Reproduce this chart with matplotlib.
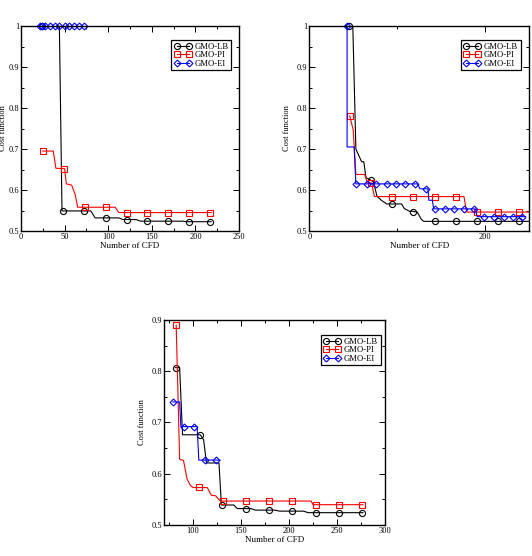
import matplotlib
matplotlib.use("Agg")
import matplotlib.pyplot as plt
from matplotlib.lines import Line2D
from matplotlib.ticker import MultipleLocator, FuncFormatter

plt.rcParams["font.family"] = ["Liberation Serif", "DejaVu Serif"]

# ---- panel 1 (top left) ----
p1_lb_x = [22, 44, 47, 80, 85, 112, 117, 132, 137, 185, 190, 218]
p1_lb_y = [1.0, 1.0, 0.549, 0.549, 0.532, 0.532, 0.528, 0.528, 0.524, 0.524, 0.5227, 0.5227]
p1_lb_mx = [24, 48, 72, 97, 121, 145, 169, 193, 217]
p1_lb_my = [1.0, 0.549, 0.549, 0.531, 0.527, 0.524, 0.524, 0.5227, 0.5227]

p1_pi_x = [25, 37, 40, 50, 52, 58, 62, 65, 108, 112, 218]
p1_pi_y = [0.695, 0.695, 0.653, 0.652, 0.615, 0.612, 0.59, 0.558, 0.558, 0.545, 0.545]
p1_pi_mx = [25, 49, 73, 97, 121, 145, 169, 193, 217]
p1_pi_my = [0.695, 0.652, 0.558, 0.558, 0.545, 0.545, 0.545, 0.545, 0.545]

p1_ei_x = [22, 72]
p1_ei_y = [1.0, 1.0]
p1_ei_mx = [22, 24.5, 27, 33, 39, 44, 50, 55, 61, 66, 72]
p1_ei_my = [1.0, 1.0, 1.0, 1.0, 1.0, 1.0, 1.0, 1.0, 1.0, 1.0, 1.0]

# ---- panel 2 (top right) ----
p2_lb_x = [45, 49.5, 53, 59.5, 62, 64.5, 70, 73, 77, 82, 88, 105, 108, 114, 118, 123, 127, 130, 250]
p2_lb_y = [1.0, 1.0, 0.70, 0.669, 0.669, 0.63, 0.624, 0.62, 0.585, 0.575, 0.566, 0.566, 0.555,
           0.548, 0.548, 0.546, 0.53, 0.5236, 0.5236]
p2_lb_mx = [45, 70, 94, 118, 143, 167, 191, 215, 239]
p2_lb_my = [1.0, 0.624, 0.565, 0.547, 0.5236, 0.5236, 0.5236, 0.5236, 0.5236]

p2_pi_x = [46, 50, 53, 63, 66, 71, 74, 176, 179, 250]
p2_pi_y = [0.781, 0.746, 0.638, 0.638, 0.617, 0.617, 0.584, 0.584, 0.5463, 0.5463]
p2_pi_mx = [46, 70, 94, 118, 143, 167, 191, 215, 239]
p2_pi_my = [0.781, 0.617, 0.584, 0.584, 0.584, 0.584, 0.5463, 0.5463, 0.5463]

p2_ei_x = [43, 43, 51, 53, 123, 126, 135, 136, 140, 141.5, 189, 191, 246]
p2_ei_y = [1.0, 0.705, 0.705, 0.615, 0.615, 0.603, 0.603, 0.575, 0.575, 0.554, 0.554, 0.535, 0.535]
p2_ei_mx = [43, 53.5, 66, 76, 88, 98.7, 109.4, 120, 132.3, 143.4, 154, 165.2, 176.3, 187.4,
            198.9, 210.3, 221, 231.7, 242.4]
p2_ei_my = [1.0, 0.615, 0.615, 0.615, 0.615, 0.615, 0.615, 0.615, 0.6025, 0.554, 0.554, 0.554,
            0.554, 0.554, 0.535, 0.535, 0.535, 0.535, 0.535]

# ---- panel 3 (bottom) ----
p3_lb_x = [81.5, 86, 89, 107.5, 111, 114, 127, 129.5, 142.5, 146, 160, 165, 185, 190, 215, 220, 277]
p3_lb_y = [0.807, 0.807, 0.676, 0.676, 0.666, 0.621, 0.621, 0.539, 0.539, 0.532, 0.532, 0.529,
           0.529, 0.527, 0.527, 0.524, 0.524]
p3_lb_mx = [81.7, 106.7, 130.6, 155.2, 179.4, 203.3, 227.9, 252.2, 276.5]
p3_lb_my = [0.807, 0.675, 0.539, 0.532, 0.529, 0.527, 0.524, 0.524, 0.524]

p3_pi_x = [82.4, 86, 90, 93.7, 97.2, 100, 114.8, 119, 123.5, 128.5, 223, 225, 277]
p3_pi_y = [0.89, 0.628, 0.626, 0.59, 0.577, 0.573, 0.573, 0.558, 0.557, 0.5467, 0.5467, 0.5396, 0.5396]
p3_pi_mx = [82.4, 106.3, 131.3, 155.2, 179.4, 203.3, 227.9, 252.2, 276.5]
p3_pi_my = [0.89, 0.574, 0.5467, 0.5467, 0.5467, 0.5467, 0.5396, 0.5396, 0.5396]

p3_ei_x = [79, 86, 87.3, 104.2, 106, 128]
p3_ei_y = [0.74, 0.74, 0.692, 0.692, 0.6266, 0.6266]
p3_ei_mx = [79, 90.2, 101.4, 112.7, 124.3]
p3_ei_my = [0.74, 0.692, 0.692, 0.6266, 0.6266]

labels = ["GMO-LB", "GMO-PI", "GMO-EI"]
colors = ["black", "#ff0000", "#0000ff"]
markers = ["o", "s", "D"]
msizes = [4.4, 4.0, 3.5]

fig = plt.figure(figsize=(5.32, 5.56), dpi=100)

panels = [
    dict(rect=[0.0395, 0.5845, 0.4098, 0.3687], xlim=(0, 250), ylim=(0.5, 1.0), xmaj=50, xmin=25,
         leg=(0.965, 0.93), ylab_x=-0.064,
         series=[(p1_lb_x, p1_lb_y, p1_lb_mx, p1_lb_my), (p1_pi_x, p1_pi_y, p1_pi_mx, p1_pi_my),
                 (p1_ei_x, p1_ei_y, p1_ei_mx, p1_ei_my)]),
    dict(rect=[0.5814, 0.5845, 0.413, 0.3687], xlim=(0, 250), ylim=(0.5, 1.0), xmaj=200, xmin=100,
         leg=(0.962, 0.93), ylab_x=-0.085,
         series=[(p2_lb_x, p2_lb_y, p2_lb_mx, p2_lb_my), (p2_pi_x, p2_pi_y, p2_pi_mx, p2_pi_my),
                 (p2_ei_x, p2_ei_y, p2_ei_mx, p2_ei_my)]),
    dict(rect=[0.3088, 0.0558, 0.4149, 0.3687], xlim=(70, 300), ylim=(0.5, 0.9), xmaj=50, xmin=25,
         leg=(0.98, 0.925), ylab_x=-0.085,
         series=[(p3_lb_x, p3_lb_y, p3_lb_mx, p3_lb_my), (p3_pi_x, p3_pi_y, p3_pi_mx, p3_pi_my),
                 (p3_ei_x, p3_ei_y, p3_ei_mx, p3_ei_my)]),
]

fmt = FuncFormatter(lambda v, pos: "%g" % round(v, 3))

for p in panels:
    ax = fig.add_axes(p["rect"])
    for (lx, ly, mx, my), c, m, ms in zip(p["series"], colors, markers, msizes):
        ax.plot(lx, ly, color=c, lw=0.8)
        ax.plot(mx, my, ls="none", marker=m, ms=ms, mfc="none", mec=c, mew=0.8, clip_on=False)
    ax.set_xlim(*p["xlim"])
    ax.set_ylim(*p["ylim"])
    ax.xaxis.set_major_locator(MultipleLocator(p["xmaj"]))
    ax.xaxis.set_minor_locator(MultipleLocator(p["xmin"]))
    ax.yaxis.set_major_locator(MultipleLocator(0.1))
    ax.yaxis.set_minor_locator(MultipleLocator(0.05))
    ax.yaxis.set_major_formatter(fmt)
    ax.tick_params(which="both", direction="in", top=True, right=True, labelsize=6.0, pad=1.4,
                   width=0.7)
    ax.tick_params(which="major", length=4)
    ax.tick_params(which="minor", length=2)
    for s in ax.spines.values():
        s.set_linewidth(1.0)
    ax.set_xlabel("Number of CFD", fontsize=6.5, labelpad=1)
    ax.set_ylabel("Cost function", fontsize=6.0)
    ax.yaxis.set_label_coords(p["ylab_x"], 0.5)
    handles = [Line2D([], [], color=c, marker=m, ms=ms, mfc="none", mec=c, mew=0.8, lw=0.8)
               for c, m, ms in zip(colors, markers, msizes)]
    leg = ax.legend(handles, labels, loc="upper right", bbox_to_anchor=p["leg"], fontsize=6.2,
                    numpoints=2, handlelength=2.0, handletextpad=0.4, borderpad=0.3,
                    labelspacing=0.05, fancybox=False, framealpha=1, borderaxespad=0)
    leg.get_frame().set_edgecolor("black")
    leg.get_frame().set_linewidth(0.9)

fig.savefig("out.png", dpi=100)
